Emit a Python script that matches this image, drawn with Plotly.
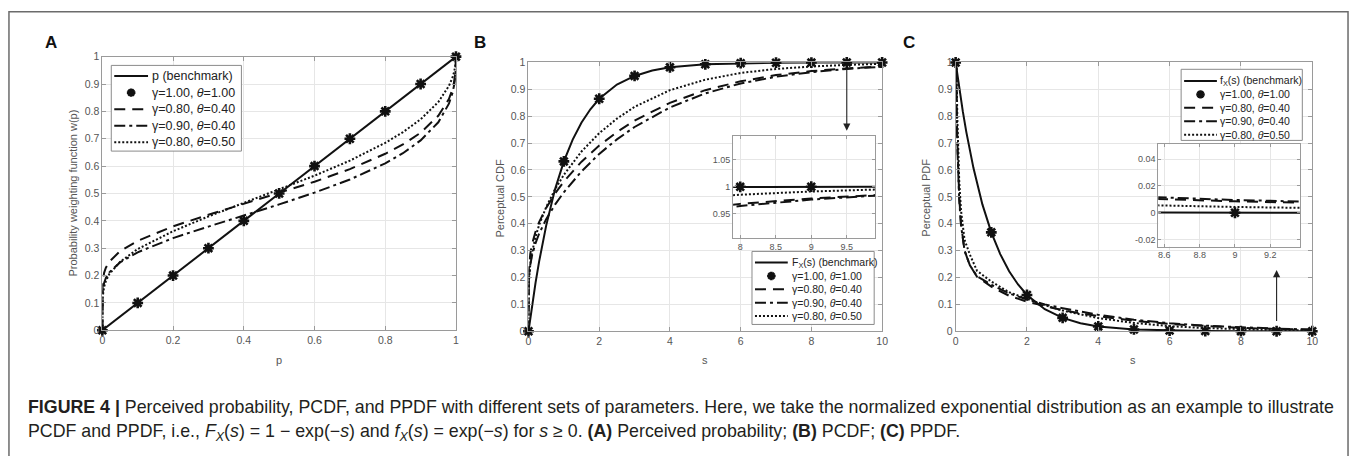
import plotly.graph_objects as go

# ---------------- DATA ----------------
# Panel A: probability weighting function
p_grid = [0, 0.0001, 0.001, 0.005, 0.01, 0.02, 0.05, 0.1, 0.2, 0.3, 0.4, 0.5, 0.6, 0.7,
          0.8, 0.85, 0.9, 0.95, 0.98, 0.99, 0.995, 0.999, 1]
w_g08_t04 = [0, 0.143, 0.177, 0.210, 0.229, 0.251, 0.289, 0.327, 0.380, 0.422, 0.462, 0.501,
             0.543, 0.589, 0.645, 0.679, 0.722, 0.784, 0.845, 0.881, 0.908, 0.951, 1]
w_g09_t04 = [0, 0.112, 0.142, 0.173, 0.191, 0.212, 0.248, 0.285, 0.337, 0.379, 0.419, 0.460,
             0.503, 0.551, 0.610, 0.647, 0.694, 0.760, 0.828, 0.867, 0.897, 0.945, 1]
w_g08_t05 = [0, 0.088, 0.122, 0.159, 0.180, 0.206, 0.250, 0.297, 0.362, 0.416, 0.465, 0.514,
             0.565, 0.620, 0.685, 0.724, 0.771, 0.834, 0.893, 0.923, 0.945, 0.975, 1]
p_bench = [0, 1]
w_bench = [0, 1]
p_mark = [0, 0.1, 0.2, 0.3, 0.4, 0.5, 0.6, 0.7, 0.8, 0.9, 1]
w_mark = [0, 0.1, 0.2, 0.3, 0.4, 0.5, 0.6, 0.7, 0.8, 0.9, 1]

# Panel B: perceptual CDF
s_bench = [0, 0.1, 0.2, 0.3, 0.5, 0.75, 1, 1.25, 1.5, 1.75, 2, 2.5, 3, 3.5, 4, 5, 6, 7, 8, 9, 10]
cdf_bench = [0, 0.095, 0.181, 0.259, 0.393, 0.528, 0.632, 0.713, 0.777, 0.826, 0.865, 0.918,
             0.950, 0.970, 0.982, 0.9933, 0.9975, 0.9991, 0.9997, 0.9999, 1.0]
s_mark = [0, 1, 2, 3, 4, 5, 6, 7, 8, 9, 10]
cdf_mark = [0, 0.632, 0.865, 0.950, 0.982, 0.9933, 0.9975, 0.9991, 0.9997, 0.9999, 1.0]
s_pcdf = [0, 0.01, 0.05, 0.1, 0.2, 0.3, 0.5, 0.75, 1, 1.5, 2, 2.5, 3, 4, 5, 6, 7, 8, 9, 10]
cdf_g08_t04 = [0, 0.229, 0.288, 0.324, 0.371, 0.406, 0.459, 0.512, 0.557, 0.631, 0.691, 0.741,
               0.784, 0.850, 0.897, 0.930, 0.953, 0.968, 0.978, 0.985]
cdf_g09_t04 = [0, 0.190, 0.247, 0.282, 0.328, 0.363, 0.417, 0.471, 0.517, 0.595, 0.660, 0.714,
               0.760, 0.833, 0.885, 0.922, 0.947, 0.964, 0.976, 0.984]
cdf_g08_t05 = [0, 0.180, 0.249, 0.293, 0.352, 0.395, 0.462, 0.528, 0.582, 0.669, 0.737, 0.791,
               0.835, 0.897, 0.936, 0.961, 0.976, 0.985, 0.991, 0.995]

# Panel C: perceptual PDF
pdf_bench = [1, 0.905, 0.819, 0.741, 0.607, 0.472, 0.368, 0.287, 0.223, 0.174, 0.135, 0.082,
             0.050, 0.030, 0.018, 0.0067, 0.0025, 0.0009, 0.0003, 0.0001, 0.00005]
pdf_mark = [1, 0.368, 0.135, 0.050, 0.018, 0.0067, 0.0025, 0.0009, 0.0003, 0.0001, 0.00005]
s_ppdf = [0.01, 0.02, 0.03, 0.05, 0.065, 0.1, 0.15, 0.25, 0.4, 0.6, 1, 1.5, 2, 2.5, 3, 4, 5,
          6, 7, 8, 9, 10]
pdf_g08_t04 = [1.3, 0.95, 0.82, 0.70, 0.60, 0.50, 0.40, 0.30, 0.245, 0.203, 0.166, 0.132, 0.110,
               0.093, 0.078, 0.056, 0.039, 0.027, 0.0185, 0.0126, 0.0086, 0.0058]
pdf_g09_t04 = [1.25, 0.92, 0.80, 0.68, 0.59, 0.49, 0.395, 0.30, 0.245, 0.205, 0.173, 0.141, 0.118,
               0.100, 0.086, 0.061, 0.043, 0.030, 0.0207, 0.0142, 0.0096, 0.0065]
pdf_g08_t05 = [1.5, 1.1, 0.92, 0.78, 0.68, 0.56, 0.45, 0.34, 0.285, 0.225, 0.185, 0.145, 0.121,
               0.097, 0.077, 0.049, 0.031, 0.019, 0.0118, 0.0072, 0.0044, 0.0027]

names = ["γ=1.00, <i>θ</i>=1.00", "γ=0.80, <i>θ</i>=0.40",
         "γ=0.90, <i>θ</i>=0.40", "γ=0.80, <i>θ</i>=0.50"]
bench_names = ["p (benchmark)", "F<sub>X</sub>(s) (benchmark)", "f<sub>X</sub>(s) (benchmark)"]

# ---------------- STYLE ----------------
W, H = 1357, 459
FONT = "Liberation Sans, Arial, Helvetica, sans-serif"
INK = "#111111"
DASH = "11px,7px"
DASHDOT = "11px,4px,3px,4px"
DOT = "2px,2px"
LW = 2
MARKER = dict(symbol="asterisk-open", size=9, color=INK, line=dict(width=2.6, color=INK))


def px(x):
    return x / W


def py(y):
    return 1 - y / H


fig = go.Figure()


def add_panel(ax, xb, yb, xm, ym, series, clip=True):
    xs_ref = "x" if ax == 1 else f"x{ax}"
    ys_ref = "y" if ax == 1 else f"y{ax}"
    fig.add_trace(go.Scatter(x=xb, y=yb, mode="lines", line=dict(color=INK, width=LW),
                             xaxis=xs_ref, yaxis=ys_ref, showlegend=False))
    fig.add_trace(go.Scatter(x=xm, y=ym, mode="markers", marker=MARKER, cliponaxis=clip,
                             xaxis=xs_ref, yaxis=ys_ref, showlegend=False))
    for (sx, sy), dash in zip(series, [DASH, DASHDOT, DOT]):
        fig.add_trace(go.Scatter(x=sx, y=sy, mode="lines",
                                 line=dict(color=INK, width=LW, dash=dash),
                                 xaxis=xs_ref, yaxis=ys_ref, showlegend=False))


B_SERIES = [(s_pcdf, cdf_g08_t04), (s_pcdf, cdf_g09_t04), (s_pcdf, cdf_g08_t05)]
C_SERIES = [(s_ppdf, pdf_g08_t04), (s_ppdf, pdf_g09_t04), (s_ppdf, pdf_g08_t05)]
add_panel(1, p_bench, w_bench, p_mark, w_mark,
          [(p_grid, w_g08_t04), (p_grid, w_g09_t04), (p_grid, w_g08_t05)], clip=False)
add_panel(2, s_bench, cdf_bench, s_mark, cdf_mark, B_SERIES, clip=False)
add_panel(3, s_bench, pdf_bench, s_mark, pdf_mark, C_SERIES, clip=False)
add_panel(4, s_bench, cdf_bench, s_mark, cdf_mark, B_SERIES, clip=True)   # inset B
add_panel(5, s_bench, pdf_bench, s_mark, pdf_mark, C_SERIES, clip=True)   # inset C

AX = dict(showline=True, linecolor="#9a9a9a", linewidth=1, mirror="ticks",
          ticks="inside", ticklen=4, tickcolor="#9a9a9a", showgrid=True,
          gridcolor="#e6e6e6", gridwidth=1, zeroline=False,
          tickfont=dict(family=FONT, size=10.5, color="#555555"))
AXI = dict(AX, tickfont=dict(family=FONT, size=9, color="#555555"), ticklen=3)


def dom(x0, x1):
    return [px(x0), px(x1)]


def vdom(y0, y1):
    return [py(y1), py(y0)]


fig.update_layout(
    xaxis=dict(AX, domain=dom(100, 456), range=[0, 1], dtick=0.2, anchor="y"),
    yaxis=dict(AX, domain=vdom(52, 333), range=[0, 1], dtick=0.1, anchor="x"),
    xaxis2=dict(AX, domain=dom(529, 885), range=[0, 10], dtick=2, anchor="y2"),
    yaxis2=dict(AX, domain=vdom(58, 334), range=[0, 1], dtick=0.1, anchor="x2"),
    xaxis3=dict(AX, domain=dom(959, 1318), range=[0, 10], dtick=2, anchor="y3"),
    yaxis3=dict(AX, domain=vdom(58, 334), range=[0, 1], dtick=0.1, anchor="x3"),
    xaxis4=dict(AXI, domain=dom(735, 878), range=[7.9, 9.9], dtick=0.5, anchor="y4"),
    yaxis4=dict(AXI, domain=vdom(133, 238), range=[0.905, 1.095],
                tickvals=[0.95, 1, 1.05], ticktext=["0.95", "1", "1.05"], anchor="x4"),
    xaxis5=dict(AXI, domain=dom(1163, 1306), range=[8.566, 9.37],
                tickvals=[8.6, 8.8, 9, 9.2], ticktext=["8.6", "8.8", "9", "9.2"], anchor="y5"),
    yaxis5=dict(AXI, domain=vdom(142, 247), range=[-0.025, 0.051],
                tickvals=[-0.02, 0, 0.02, 0.04], ticktext=["-0.02", "0", "0.02", "0.04"],
                anchor="x5"),
    width=W, height=H, margin=dict(l=0, r=0, t=0, b=0),
    paper_bgcolor="white", plot_bgcolor="white", showlegend=False,
    font=dict(family=FONT, color="#222222"),
)

ann = []
shapes = []

# ---------------- manual legends (box, samples, labels) ----------------
LEGENDS = [
    dict(box=(109, 61, 240, 149), row0=72, step=17, x0=112, x1=146, tx=148, size=12.5,
         bench=bench_names[0]),
    dict(box=(754, 252, 877, 327), row0=263.5, step=13.7, x0=757, x1=790, tx=792, size=10.5,
         bench=bench_names[1]),
    dict(box=(1186, 65, 1308, 138), row0=77, step=13.8, x0=1189, x1=1222, tx=1223, size=10.5,
         bench=bench_names[2]),
]
for L in LEGENDS:
    bx0, by0, bx1, by1 = L["box"]
    shapes.append(dict(type="rect", xref="paper", yref="paper", x0=px(bx0), x1=px(bx1),
                       y0=py(by1), y1=py(by0), fillcolor="white",
                       line=dict(color="#8a8a8a", width=1), layer="above"))
    labels = [L["bench"]] + names
    styles = ["solid", "marker", DASH, DASHDOT, DOT]
    for i, (lab, st) in enumerate(zip(labels, styles)):
        yy = L["row0"] + i * L["step"]
        if st == "marker":
            cx = (L["x0"] + L["x1"]) / 2
            r, d = 4.3, 3.0
            path = (f"M {px(cx - r)},{py(yy)} L {px(cx + r)},{py(yy)} "
                    f"M {px(cx)},{py(yy - r)} L {px(cx)},{py(yy + r)} "
                    f"M {px(cx - d)},{py(yy - d)} L {px(cx + d)},{py(yy + d)} "
                    f"M {px(cx - d)},{py(yy + d)} L {px(cx + d)},{py(yy - d)}")
            shapes.append(dict(type="path", xref="paper", yref="paper", path=path,
                               line=dict(color=INK, width=2.6), layer="above"))
        else:
            shapes.append(dict(type="line", xref="paper", yref="paper",
                               x0=px(L["x0"]), x1=px(L["x1"]), y0=py(yy), y1=py(yy),
                               line=dict(color=INK, width=LW, dash=st), layer="above"))
        ann.append(dict(text=lab, x=px(L["tx"]), y=py(yy), xref="paper", yref="paper",
                        xanchor="left", yanchor="middle", showarrow=False,
                        font=dict(family=FONT, size=L["size"], color="#222222")))

# panel letters
for lab, x in [("A", 48), ("B", 480), ("C", 912)]:
    ann.append(dict(text=f"<b>{lab}</b>", x=px(x), y=py(37), xref="paper", yref="paper",
                    xanchor="center", yanchor="middle", showarrow=False,
                    font=dict(family=FONT, size=17, color="#111")))
# axis titles
for t, x, y, ang in [("Probability weighting function w(p)", 70, 192, -90),
                     ("Perceptual CDF", 500, 197, -90),
                     ("Perceptual PDF", 929, 197, -90),
                     ("p", 278, 363, 0), ("s", 707, 363, 0), ("s", 1138, 363, 0)]:
    ann.append(dict(text=t, x=px(x), y=py(y), xref="paper", yref="paper", showarrow=False,
                    xanchor="center", yanchor="middle",
                    textangle=ang, font=dict(family=FONT, size=11, color="#555")))
# arrows pointing at the zoomed region
ann.append(dict(x=9, y=0.746, ax=9, ay=0.982, xref="x2", yref="y2", axref="x2", ayref="y2",
                text="", showarrow=True, arrowhead=2, arrowsize=1.3, arrowwidth=1.1,
                arrowcolor="#222"))
ann.append(dict(x=9, y=0.228, ax=9, ay=0.033, xref="x3", yref="y3", axref="x3", ayref="y3",
                text="", showarrow=True, arrowhead=2, arrowsize=1.3, arrowwidth=1.1,
                arrowcolor="#222"))
# caption
cap1 = ("<b>FIGURE 4 |</b> Perceived probability, PCDF, and PPDF with different sets of "
        "parameters. Here, we take the normalized exponential distribution as an example "
        "to illustrate")
cap2 = ("PCDF and PPDF, i.e., <i>F<sub>X</sub></i>(<i>s</i>) = 1 − exp(−<i>s</i>) and "
        "<i>f<sub>X</sub></i>(<i>s</i>) = exp(−<i>s</i>) for <i>s</i> ≥ 0. "
        "<b>(A)</b> Perceived probability; <b>(B)</b> PCDF; <b>(C)</b> PPDF.")
for t, y in [(cap1, 412), (cap2, 438)]:
    ann.append(dict(text=t, x=px(23), y=py(y), xref="paper", yref="paper", showarrow=False,
                    xanchor="left", yanchor="middle",
                    font=dict(family=FONT, size=17.8, color="#231f20")))

# outer frame (left, top, right)
shapes.append(dict(type="path", xref="paper", yref="paper",
                   path=f"M {px(6)},{py(462)} L {px(6)},{py(6)} L {px(1354)},{py(6)} "
                        f"L {px(1354)},{py(462)}",
                   line=dict(color="#6b6b6b", width=1.5)))

fig.update_layout(annotations=ann, shapes=shapes)

fig.write_html("out.html", config={"displayModeBar": False},
               post_script="document.body.style.margin='0px';"
                           "document.body.style.overflow='hidden';")
